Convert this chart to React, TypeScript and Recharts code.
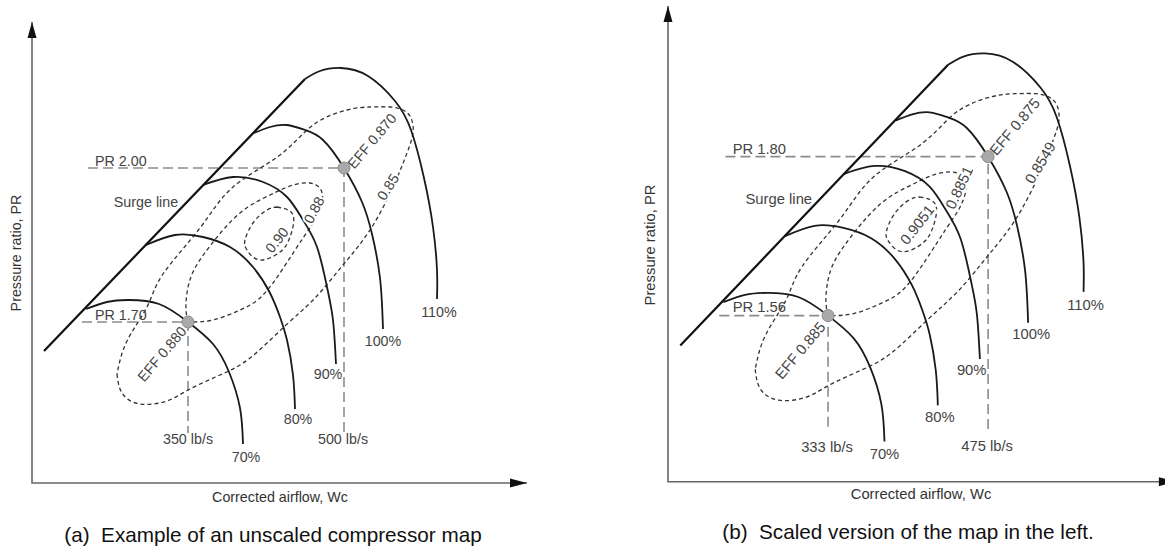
import React from 'react';
import { ComposedChart, Line, Scatter, XAxis, YAxis } from 'recharts';

// Schematic map units (the map has no tick values): origin at the axes corner.
const X_MAX = 495;
const Y_MAX = 461;

type Pt = { x: number; y: number };
type Label = { text: string; x: number; y: number; angle?: number; anchor?: 'start' | 'middle' };

const surgeLine: Pt[] = [
    { x: 12, y: 132 },
    { x: 273, y: 404 },
];

const speed70: Pt[] = [
    { x: 54, y: 174 }, { x: 75, y: 181 }, { x: 96, y: 183 }, { x: 127, y: 179 }, { x: 156, y: 161 },
    { x: 181, y: 139 }, { x: 197, y: 111 }, { x: 208, y: 75 }, { x: 211, y: 39 },
];
const speed80: Pt[] = [
    { x: 114, y: 238 }, { x: 143, y: 248 }, { x: 171, y: 246 }, { x: 198, y: 236 }, { x: 221, y: 216 },
    { x: 238, y: 190 }, { x: 248, y: 166 }, { x: 255, y: 143 }, { x: 261, y: 108 }, { x: 263, y: 74 },
];
const speed90: Pt[] = [
    { x: 171, y: 298 }, { x: 201, y: 306 }, { x: 231, y: 301 }, { x: 255, y: 286 }, { x: 271, y: 263 },
    { x: 285, y: 236 }, { x: 295, y: 196 }, { x: 301, y: 163 }, { x: 304, y: 119 },
];
const speed100: Pt[] = [
    { x: 222, y: 350 }, { x: 238, y: 356 }, { x: 255, y: 358 }, { x: 273, y: 353 }, { x: 291, y: 343 },
    { x: 312, y: 315 }, { x: 330, y: 281 }, { x: 340, y: 249 }, { x: 348, y: 205 }, { x: 351, y: 154 },
];
const speed110: Pt[] = [
    { x: 273, y: 404 }, { x: 288, y: 412 }, { x: 309, y: 415 }, { x: 336, y: 407 }, { x: 363, y: 382 },
    { x: 379, y: 353 }, { x: 392, y: 305 }, { x: 401, y: 256 }, { x: 405, y: 213 }, { x: 405, y: 184 },
];
const speedLines = [speed70, speed80, speed90, speed100, speed110];

// efficiency islands, outer to inner
const effOuter: Pt[] = [
    { x: 85, y: 109 }, { x: 90, y: 90 }, { x: 108, y: 79 }, { x: 135, y: 82 }, { x: 156, y: 93 },
    { x: 188, y: 108 }, { x: 218, y: 125 }, { x: 253, y: 157 }, { x: 283, y: 185 }, { x: 311, y: 218 },
    { x: 338, y: 253 }, { x: 361, y: 296 }, { x: 375, y: 330 }, { x: 381, y: 350 }, { x: 379, y: 365 },
    { x: 371, y: 373 }, { x: 358, y: 376 }, { x: 338, y: 376 }, { x: 315, y: 373 }, { x: 281, y: 358 },
    { x: 248, y: 328 }, { x: 201, y: 296 }, { x: 168, y: 255 }, { x: 131, y: 209 }, { x: 115, y: 176 },
    { x: 95, y: 142 }, { x: 85, y: 109 },
];
const effMiddle: Pt[] = [
    { x: 156, y: 161 }, { x: 154, y: 173 }, { x: 155, y: 190 }, { x: 161, y: 211 }, { x: 178, y: 237 },
    { x: 208, y: 270 }, { x: 238, y: 288 }, { x: 258, y: 297 }, { x: 278, y: 300 }, { x: 289, y: 293 },
    { x: 290, y: 281 }, { x: 284, y: 265 }, { x: 271, y: 245 }, { x: 252, y: 216 }, { x: 230, y: 187 },
    { x: 208, y: 173 }, { x: 181, y: 163 }, { x: 156, y: 161 },
];
const effInner: Pt[] = [
    { x: 245, y: 276 }, { x: 261, y: 268 }, { x: 258, y: 246 }, { x: 248, y: 231 }, { x: 228, y: 223 },
    { x: 215, y: 233 }, { x: 213, y: 243 }, { x: 221, y: 260 }, { x: 235, y: 273 }, { x: 245, y: 276 },
];
const effIslands = [effOuter, effMiddle, effInner];

// operating points (low, high) and where their guide lines start / end
const opPoints: Pt[] = [
    { x: 156, y: 161 },
    { x: 312, y: 315 },
];
const guideStartX = [50, 56];
const guideBottomY = 50;

const textLabelsA: Label[] = [
    { text: 'PR 1.70', x: 63, y: 168, anchor: 'start' },
    { text: 'PR 2.00', x: 63, y: 322, anchor: 'start' },
    { text: 'Surge line', x: 114, y: 281 },
    { text: 'EFF 0.880', x: 130, y: 129, angle: -50 },
    { text: 'EFF 0.870', x: 340, y: 342, angle: -50 },
    { text: '70%', x: 214, y: 26 },
    { text: '80%', x: 266, y: 64 },
    { text: '90%', x: 296, y: 109 },
    { text: '100%', x: 351, y: 142 },
    { text: '110%', x: 407, y: 171 },
    { text: '350 lb/s', x: 156, y: 44 },
    { text: '500 lb/s', x: 311, y: 44 },
];
const effLabelsA: Label[] = [
    { text: '0.85', x: 356, y: 296, angle: -58 },
    { text: '0.88', x: 282, y: 273, angle: -62 },
    { text: '0.90', x: 245, y: 243, angle: -52 },
];

const textLabelsB: Label[] = [
    { text: 'PR 1.56', x: 63, y: 169, anchor: 'start' },
    { text: 'PR 1.80', x: 63, y: 322, anchor: 'start' },
    { text: 'Surge line', x: 108, y: 274 },
    { text: 'EFF 0.885', x: 129, y: 127, angle: -50 },
    { text: 'EFF 0.875', x: 338, y: 344, angle: -50 },
    { text: '70%', x: 211, y: 27 },
    { text: '80%', x: 265, y: 63 },
    { text: '90%', x: 296, y: 108 },
    { text: '100%', x: 354, y: 143 },
    { text: '110%', x: 407, y: 171 },
    { text: '333 lb/s', x: 155, y: 34 },
    { text: '475 lb/s', x: 311, y: 35 },
];
const effLabelsB: Label[] = [
    { text: '0.8549', x: 363, y: 309, angle: -59 },
    { text: '0.8851', x: 284, y: 285, angle: -65 },
    { text: '0.9051', x: 243, y: 249, angle: -52 },
];

const FONT = '"Liberation Sans", Arial, Helvetica, sans-serif';

const labelShape = (fontSize: number, halo: boolean) => (p: any) => {
    const d: Label = p.payload;
    return (
        <text
            x={p.cx}
            y={p.cy}
            transform={d.angle ? `rotate(${d.angle} ${p.cx} ${p.cy})` : undefined}
            textAnchor={d.anchor ?? 'middle'}
            dominantBaseline="central"
            fontSize={fontSize}
            fontFamily={FONT}
            fill="#444"
            stroke={halo ? '#fff' : 'none'}
            strokeWidth={halo ? 4 : 0}
            paintOrder="stroke"
        >
            {d.text}
        </text>
    );
};

const arrowUp = (p: any) => (
    <polygon points={`${p.cx},${p.cy} ${p.cx - 4.5},${p.cy + 16} ${p.cx + 4.5},${p.cy + 16}`} fill="#111" />
);
const arrowRight = (p: any) => (
    <polygon points={`${p.cx},${p.cy} ${p.cx - 17},${p.cy - 4.5} ${p.cx - 17},${p.cy + 4.5}`} fill="#111" />
);
const opDot = (p: any) => <circle cx={p.cx} cy={p.cy} r={6} fill="#a9a9a9" stroke="#8a8a8a" strokeWidth={1} />;

interface PanelProps {
    plotLeft: number;
    plotTop: number;
    sx: number;
    sy: number;
    fontSize: number;
    textLabels: Label[];
    effLabels: Label[];
}

const MapPanel: React.FC<PanelProps> = ({ plotLeft, plotTop, sx, sy, fontSize, textLabels, effLabels }) => {
    const m = 12;
    const axisPath = [{ x: 0, y: Y_MAX }, { x: 0, y: 0 }, { x: X_MAX, y: 0 }];
    return (
        <div style={{ position: 'absolute', left: plotLeft - m, top: plotTop - m }}>
            <ComposedChart
                width={X_MAX * sx + 2 * m}
                height={Y_MAX * sy + 2 * m}
                margin={{ top: m, right: m, bottom: m, left: m }}
            >
                <XAxis type="number" dataKey="x" domain={[0, X_MAX]} hide />
                <YAxis type="number" dataKey="y" domain={[0, Y_MAX]} hide />

                <Line data={axisPath} dataKey="y" type="linear" stroke="#666" strokeWidth={1.6} dot={false} activeDot={false} isAnimationActive={false} />

                {opPoints.map((p, i) => (
                    <Line
                        key={`guide-${i}`}
                        data={[{ x: guideStartX[i], y: p.y }, p, { x: p.x, y: guideBottomY }]}
                        dataKey="y"
                        type="linear"
                        stroke="#8c8c8c"
                        strokeWidth={1.6}
                        strokeDasharray="10 5"
                        dot={false}
                        activeDot={false}
                        isAnimationActive={false}
                    />
                ))}

                {effIslands.map((d, i) => (
                    <Line
                        key={`eff-${i}`}
                        data={d}
                        dataKey="y"
                        type="natural"
                        stroke="#333"
                        strokeWidth={1.3}
                        strokeDasharray="4 3"
                        dot={false}
                        activeDot={false}
                        isAnimationActive={false}
                    />
                ))}

                {speedLines.map((d, i) => (
                    <Line
                        key={`speed-${i}`}
                        data={d}
                        dataKey="y"
                        type="natural"
                        stroke="#1a1a1a"
                        strokeWidth={1.8}
                        dot={false}
                        activeDot={false}
                        isAnimationActive={false}
                    />
                ))}
                <Line data={surgeLine} dataKey="y" type="linear" stroke="#111" strokeWidth={2.2} dot={false} activeDot={false} isAnimationActive={false} />

                <Scatter data={[{ x: 0, y: Y_MAX }]} shape={arrowUp} isAnimationActive={false} />
                <Scatter data={[{ x: X_MAX, y: 0 }]} shape={arrowRight} isAnimationActive={false} />
                <Scatter data={opPoints} shape={opDot} isAnimationActive={false} />
                <Scatter data={effLabels} shape={labelShape(fontSize, true)} isAnimationActive={false} />
                <Scatter data={textLabels} shape={labelShape(fontSize, false)} isAnimationActive={false} />
            </ComposedChart>
        </div>
    );
};

const Txt: React.FC<{ x: number; y: number; size: number; rotate?: number; color?: string; children: React.ReactNode }> = ({ x, y, size, rotate, color, children }) => (
    <div
        style={{
            position: 'absolute',
            left: x,
            top: y,
            transform: `translate(-50%, -50%)${rotate ? ` rotate(${rotate}deg)` : ''}`,
            fontSize: size,
            fontFamily: FONT,
            color: color ?? '#333',
            whiteSpace: 'pre',
            lineHeight: 1,
        }}
    >
        {children}
    </div>
);

export default function App() {
    return (
        <div style={{ position: 'absolute', left: 0, top: 0, width: 1165, height: 548, overflow: 'hidden', background: '#fff' }}>
            <MapPanel plotLeft={32} plotTop={22} sx={1} sy={1} fontSize={14.3} textLabels={textLabelsA} effLabels={effLabelsA} />
            <MapPanel plotLeft={667.5} plotTop={5.7} sx={1.026} sy={1.032} fontSize={14.8} textLabels={textLabelsB} effLabels={effLabelsB} />

            <Txt x={16} y={253} size={14.3} rotate={-90}>Pressure ratio, PR</Txt>
            <Txt x={280} y={497} size={14.3}>Corrected airflow, Wc</Txt>
            <Txt x={273} y={535} size={20.7} color="#111">{'(a)  Example of an unscaled compressor map'}</Txt>

            <Txt x={650} y={245} size={14.8} rotate={-90}>Pressure ratio, PR</Txt>
            <Txt x={921} y={494} size={14.8}>Corrected airflow, Wc</Txt>
            <Txt x={908} y={532} size={20.7} color="#111">{'(b)  Scaled version of the map in the left.'}</Txt>
        </div>
    );
}
